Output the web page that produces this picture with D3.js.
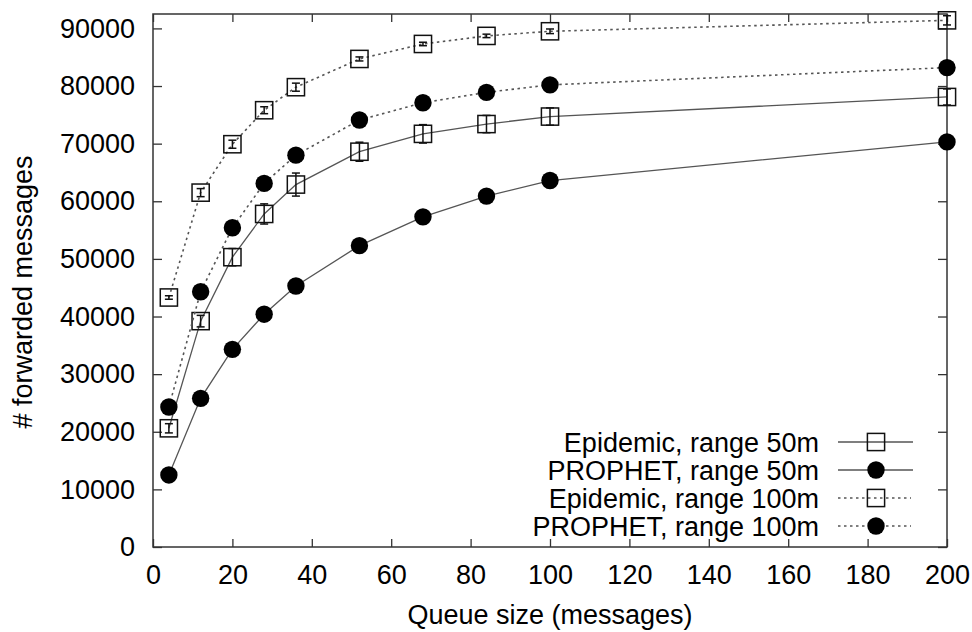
<!DOCTYPE html>
<meta charset="utf-8">
<style>
body { margin: 0; background: #fff; }
text { font-family: "Liberation Sans", Arial, sans-serif; fill: #000; }
</style>
<script src="https://d3js.org/d3.v7.min.js"></script>
<body>
<script>

var width = 972, height = 632
var mLeft = 153, mRight = 947, mTop = 14, mBottom = 547
var fs = 27

// queue sizes (x)
var queue = [4, 12, 20, 28, 36, 52, 68, 84, 100, 200]

// forwarded messages
var epi50     = [20600, 39200, 50300, 57800, 62900, 68600, 71700, 73400, 74700, 78100]
var epi50Err  = [800, 1000, 1500, 1750, 2000, 1650, 1600, 1500, 1500, 1400]
var pro50     = [12500, 25800, 34300, 40400, 45300, 52300, 57300, 60900, 63600, 70300]
var epi100    = [43300, 61500, 69900, 75800, 79800, 84700, 87300, 88700, 89500, 91400]
var epi100Err = [300, 700, 700, 600, 700, 350, 300, 300, 400, 800]
var pro100    = [24300, 44300, 55400, 63100, 68000, 74100, 77100, 78900, 80200, 83200]

var labels = ["Epidemic, range 50m", "PROPHET, range 50m", "Epidemic, range 100m", "PROPHET, range 100m"]
var xTicks = d3.range(0, 201, 20)
var yTicks = d3.range(0, 90001, 10000)

var series = [
  {name: labels[0], y: epi50, err: epi50Err, mark: "square", dash: null},
  {name: labels[1], y: pro50, err: null, mark: "circle", dash: null},
  {name: labels[2], y: epi100, err: epi100Err, mark: "square", dash: "2.5,3.5"},
  {name: labels[3], y: pro100, err: null, mark: "circle", dash: "2.5,3.5"}
]

var x = d3.scaleLinear().domain([0, 200]).range([mLeft, mRight])
var y = d3.scaleLinear().domain([0, 92500]).range([mBottom, mTop])

var svg = d3.select("body").append("svg").attr("width", width).attr("height", height)

function fontify(g){
  g.attr("font-size", fs).attr("font-family", "Liberation Sans, Arial, sans-serif")
  g.select(".domain").remove()
  g.selectAll(".tick line").attr("stroke", "#333").attr("stroke-width", 1.3)
  g.selectAll("text").attr("fill", "#000")
}

svg.append("g").attr("transform", "translate(" + mLeft + ",0)")
  .call(d3.axisLeft(y).tickValues(yTicks).tickFormat(d3.format("d")).tickSize(-9).tickPadding(18)).call(fontify)
svg.append("g").attr("transform", "translate(" + mRight + ",0)")
  .call(d3.axisRight(y).tickValues(yTicks).tickSize(-9).tickFormat("")).call(fontify)
svg.append("g").attr("transform", "translate(0," + mBottom + ")")
  .call(d3.axisBottom(x).tickValues(xTicks).tickFormat(d3.format("d")).tickSize(-8).tickPadding(18)).call(fontify)
svg.append("g").attr("transform", "translate(0," + mTop + ")")
  .call(d3.axisTop(x).tickValues(xTicks).tickSize(-8).tickFormat("")).call(fontify)

svg.append("rect")
  .attr("x", mLeft).attr("y", mTop).attr("width", mRight - mLeft).attr("height", mBottom - mTop)
  .attr("fill", "none").attr("stroke", "#333").attr("stroke-width", 1.5)

// axis titles
svg.append("text").attr("x", (mLeft + mRight) / 2).attr("y", 624)
  .attr("text-anchor", "middle").attr("font-size", fs).text("Queue size (messages)")
svg.append("text").attr("transform", "translate(32,292) rotate(-90)")
  .attr("text-anchor", "middle").attr("font-size", fs).text("# forwarded messages")

var line = d3.line().x(d => x(d[0])).y(d => y(d[1]))

var sq = 8.6, rad = 8.7, cap = 4

function drawMark(g, type, cx, cy){
  if(type == "square"){
    g.append("rect").attr("x", cx - sq).attr("y", cy - sq).attr("width", 2*sq).attr("height", 2*sq)
      .attr("fill", "none").attr("stroke", "#111").attr("stroke-width", 1.5)
  } else {
    g.append("circle").attr("cx", cx).attr("cy", cy).attr("r", rad).attr("fill", "#000")
  }
}

series.forEach(s => {
  var pts = queue.map((q, i) => [q, s.y[i]])
  svg.append("path").datum(pts).attr("d", line)
    .attr("fill", "none").attr("stroke", "#555").attr("stroke-width", s.dash ? 1.6 : 1.3)
    .attr("stroke-dasharray", s.dash)

  var g = svg.append("g")
  pts.forEach((p, i) => {
    var cx = x(p[0]), cy = y(p[1])
    if(s.err){
      var y0 = y(p[1] - s.err[i]), y1 = y(p[1] + s.err[i])
      g.append("line").attr("x1", cx).attr("x2", cx).attr("y1", y0).attr("y2", y1)
        .attr("stroke", "#111").attr("stroke-width", 1.5)
      ;[y0, y1].forEach(v => g.append("line").attr("x1", cx - cap).attr("x2", cx + cap)
        .attr("y1", v).attr("y2", v).attr("stroke", "#111").attr("stroke-width", 1.5))
    }
    drawMark(g, s.mark, cx, cy)
  })
})

// legend
var lg = svg.append("g")
series.forEach((s, i) => {
  var cy = 442 + i * 28
  lg.append("text").attr("x", 819).attr("y", cy + 9.5).attr("text-anchor", "end")
    .attr("font-size", fs).text(s.name)
  lg.append("line").attr("x1", 838).attr("x2", s.dash ? 911 : 913).attr("y1", cy).attr("y2", cy)
    .attr("stroke", "#555").attr("stroke-width", s.dash ? 1.6 : 1.3).attr("stroke-dasharray", s.dash)
  drawMark(lg, s.mark, 876, cy)
})

</script>
